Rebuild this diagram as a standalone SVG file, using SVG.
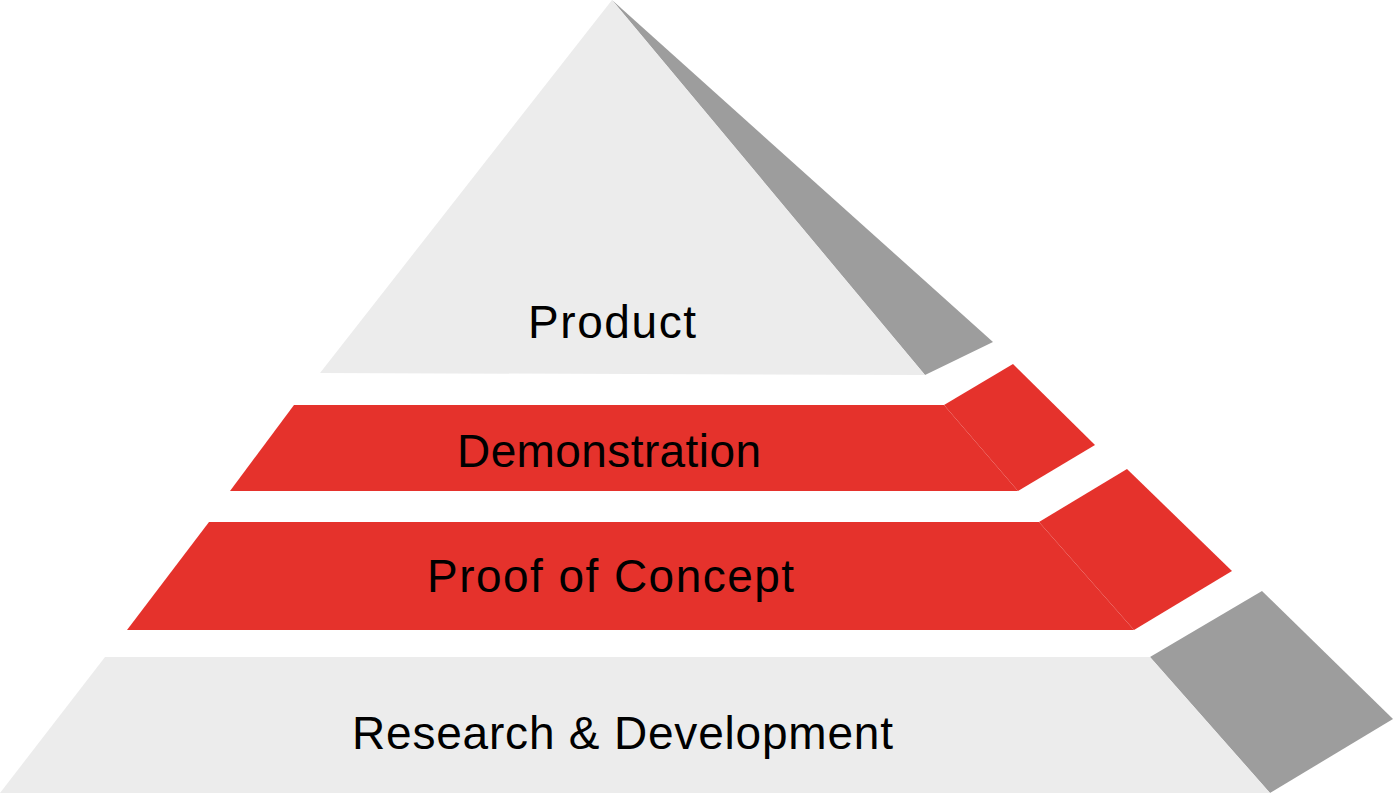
<svg xmlns="http://www.w3.org/2000/svg" width="1393" height="795" viewBox="0 0 1393 795">
<style>
.light{fill:#ececec}
.dark{fill:#9d9d9d}
.red{fill:#e5322c}
.lbl{font-family:"Liberation Sans",Arial,sans-serif;font-size:46px;fill:#000}
</style>
<rect width="1393" height="795" fill="#fff"/>
<g id="product">
<polygon class="dark" points="612,0 993,342 925,375"/>
<polygon class="light" points="612,0 925,375 320,373"/>
<text class="lbl" x="528" y="338" textLength="168" lengthAdjust="spacing">Product</text>
</g>
<g id="demonstration">
<polygon class="red" points="944,405 1013,364 1095,445 1018,491"/>
<polygon class="red" points="294,405 944,405 1018,491 230,491"/>
<text class="lbl" x="457" y="467" textLength="304" lengthAdjust="spacing">Demonstration</text>
</g>
<g id="proof-of-concept">
<polygon class="red" points="1039,522 1127,469 1232,571 1134,630"/>
<polygon class="red" points="209,522 1039,522 1134,630 127,630"/>
<text class="lbl" x="427" y="592" textLength="367" lengthAdjust="spacing">Proof of Concept</text>
</g>
<g id="research-development">
<polygon class="dark" points="1150,657 1262,591 1393,719 1270,793"/>
<polygon class="light" points="105,657 1150,657 1270,793 0,793"/>
<text class="lbl" x="352" y="749" textLength="541" lengthAdjust="spacing">Research &amp; Development</text>
</g>
<g id="connectors"/>
</svg>
